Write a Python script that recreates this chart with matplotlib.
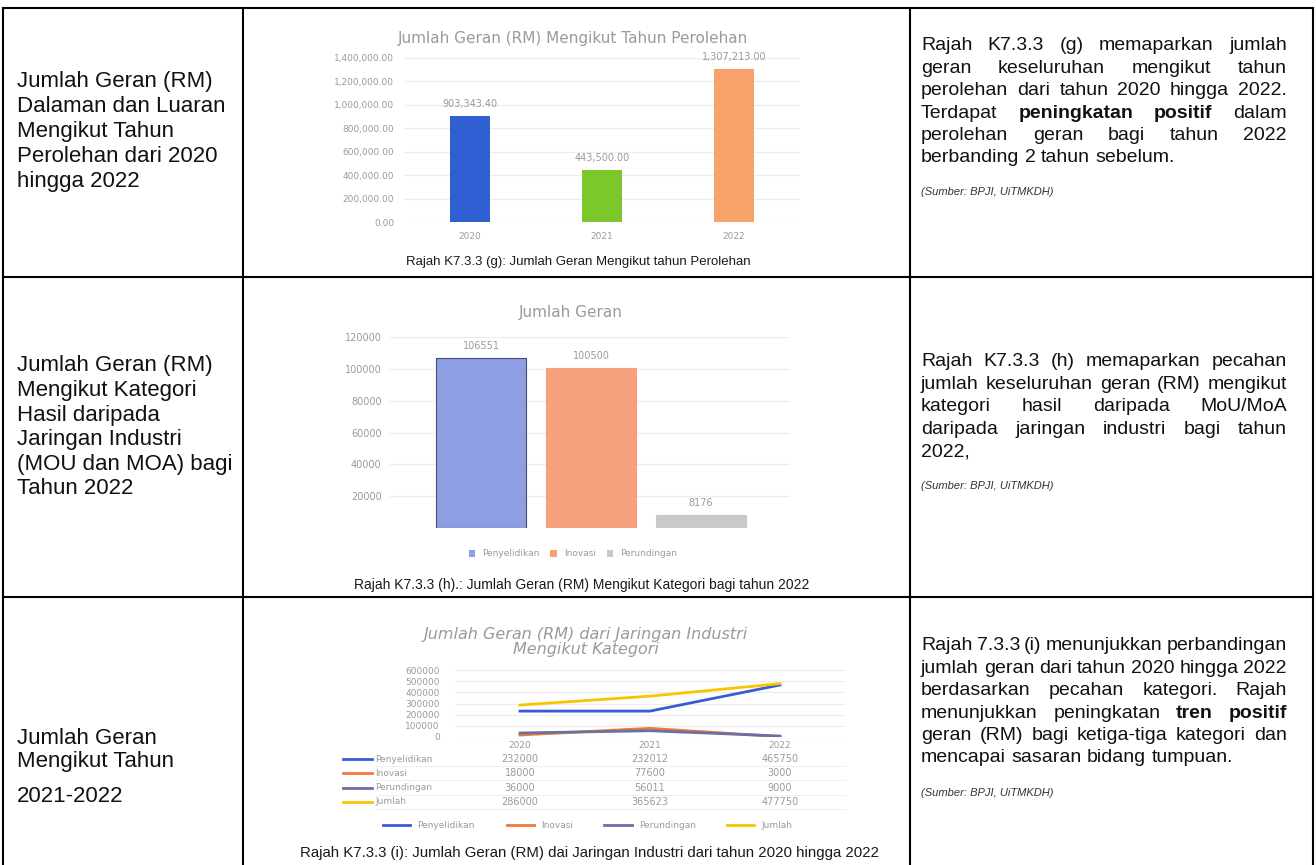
import matplotlib
matplotlib.use('Agg')
import matplotlib.pyplot as plt
import matplotlib.transforms as mtransforms
from matplotlib.lines import Line2D
from matplotlib.patches import Patch

plt.rcParams['font.family'] = ['Liberation Sans', 'DejaVu Sans']

W, H = 1316, 865
CHART_FONT = 'DejaVu Sans'
GREY_TXT = '#9a9a9a'
GRID = '#ececec'

# Rajah K7.3.3 (g): geran mengikut tahun perolehan
tahun_g = ['2020', '2021', '2022']
geran_g = [903343.40, 443500.00, 1307213.00]
warna_g = ['#2f5fd3', '#7cc72a', '#f9a36c']
yticks_g = [0, 200000, 400000, 600000, 800000, 1000000, 1200000, 1400000]

# Rajah K7.3.3 (h): geran mengikut kategori 2022
kategori_h = ['Penyelidikan', 'Inovasi', 'Perundingan']
geran_h = [106551, 100500, 8176]
warna_h = ['#8d9ee2', '#f6a17c', '#c9c9c9']
yticks_h = [20000, 40000, 60000, 80000, 100000, 120000]

# Rajah K7.3.3 (i): geran jaringan industri mengikut kategori
tahun_i = ['2020', '2021', '2022']
siri_i = ['Penyelidikan', 'Inovasi', 'Perundingan', 'Jumlah']
penyelidikan_i = [232000, 232012, 465750]
inovasi_i = [18000, 77600, 3000]
perundingan_i = [36000, 56011, 9000]
jumlah_i = [286000, 365623, 477750]
warna_i = ['#3b5bd6', '#ec7b3a', '#6b6fa6', '#f7c600']
yticks_i = [0, 100000, 200000, 300000, 400000, 500000, 600000]

# table text
kiri = [
    ['Jumlah Geran (RM)', 'Dalaman dan Luaran', 'Mengikut Tahun',
     'Perolehan dari 2020', 'hingga 2022'],
    ['Jumlah Geran (RM)', 'Mengikut Kategori', 'Hasil daripada',
     'Jaringan Industri', '(MOU dan MOA) bagi', 'Tahun 2022'],
    ['Jumlah Geran', 'Mengikut Tahun', '2021-2022'],
]
kanan = [
    ['Rajah K7.3.3 (g) memaparkan jumlah',
     'geran keseluruhan mengikut tahun',
     'perolehan dari tahun 2020 hingga 2022.',
     'Terdapat *peningkatan *positif dalam',
     'perolehan geran bagi tahun 2022',
     'berbanding 2 tahun sebelum.'],
    ['Rajah K7.3.3 (h) memaparkan pecahan',
     'jumlah keseluruhan geran (RM) mengikut',
     'kategori hasil daripada MoU/MoA',
     'daripada jaringan industri bagi tahun',
     '2022,'],
    ['Rajah 7.3.3 (i) menunjukkan perbandingan',
     'jumlah geran dari tahun 2020 hingga 2022',
     'berdasarkan pecahan kategori. Rajah',
     'menunjukkan peningkatan *tren *positif',
     'geran (RM) bagi ketiga-tiga kategori dan',
     'mencapai sasaran bidang tumpuan.'],
]
sumber = '(Sumber: BPJI, UiTMKDH)'
kapsyen = [
    'Rajah K7.3.3 (g): Jumlah Geran Mengikut tahun Perolehan',
    'Rajah K7.3.3 (h).: Jumlah Geran (RM) Mengikut Kategori bagi tahun 2022',
    'Rajah K7.3.3 (i): Jumlah Geran (RM) dai Jaringan Industri dari tahun 2020 hingga 2022',
]

fig = plt.figure(figsize=(W / 100, H / 100), dpi=100)
renderer = fig.canvas.get_renderer()


def fx(x):
    return x / W


def fy(y):
    return 1 - y / H


def box(x0, y0, x1, y1):
    return fig.add_axes([fx(x0), fy(y1), (x1 - x0) / W, (y1 - y0) / H])


def line_px(xs, ys, **kw):
    fig.add_artist(Line2D([fx(x) for x in xs], [fy(y) for y in ys],
                          transform=fig.transFigure, **kw))


def text_px(x, y, s, **kw):
    return fig.text(fx(x), fy(y), s, **kw)


def justified(lines, x0, x1, y0, dy, size):
    a = text_px(0, 0, 'a a', fontsize=size)
    b = text_px(0, 0, 'aa', fontsize=size)
    space = a.get_window_extent(renderer).width - b.get_window_extent(renderer).width
    a.remove()
    b.remove()
    for i, line in enumerate(lines):
        y = y0 + i * dy
        words = line.split()
        arts = []
        for w in words:
            bold = w.startswith('*')
            arts.append(text_px(x0, y, w.lstrip('*'), fontsize=size, va='center',
                                fontweight='bold' if bold else 'normal', color='#111111'))
        widths = [t.get_window_extent(renderer).width for t in arts]
        if i == len(lines) - 1 or len(words) == 1:
            gap = space
        else:
            gap = (x1 - x0 - sum(widths)) / (len(words) - 1)
        x = x0
        for t, w in zip(arts, widths):
            t.set_x(fx(x))
            x += w + gap


def style_chart(ax):
    for s in ax.spines.values():
        s.set_visible(False)
    ax.tick_params(length=0, labelcolor=GREY_TXT)
    ax.grid(axis='y', color=GRID, lw=0.8)
    ax.set_axisbelow(True)
    for lbl in ax.get_xticklabels() + ax.get_yticklabels():
        lbl.set_family(CHART_FONT)


# ---- table frame
for y in (8, 277, 597):
    line_px([3, 1313], [y, y], color='black', lw=1.5)
for x in (3, 243, 910, 1313):
    line_px([x, x], [8, 870], color='black', lw=1.5)

# ---- left column
kiri_y = [(82, 25), (366, 24.6), (738, 23)]
for lines, (y0, dy) in zip(kiri, kiri_y):
    for i, s in enumerate(lines):
        extra = 13 if (len(lines) == 3 and i == 2) else 0
        text_px(17, y0 + i * dy + extra, s, fontsize=16, va='center', color='#111111')

# ---- right column
kanan_y = [(46, 22.4), (362, 22.4), (646, 22.4)]
sumber_y = [192, 486, 793]
for lines, (y0, dy), ys in zip(kanan, kanan_y, sumber_y):
    justified(lines, 921, 1287, y0, dy, 14)
    text_px(921, ys, sumber, fontsize=8, style='italic', va='center', color='#333333')

# ---- captions
for s, (cx, cy), fs in zip(kapsyen, [(578, 262), (582, 585), (590, 853)], [9.5, 10, 10.8]):
    text_px(cx, cy, s, fontsize=fs, ha='center', va='center', color='#1a1a1a')

# ---- chart (g)
text_px(573, 38, 'Jumlah Geran (RM) Mengikut Tahun Perolehan', family=CHART_FONT,
        fontsize=11, ha='center', va='center', color=GREY_TXT)
ax1 = box(404, 58, 800, 222)
pos_g = range(len(tahun_g))
ax1.bar(pos_g, geran_g, width=0.31, color=warna_g)
ax1.set_xlim(-0.5, 2.5)
ax1.set_ylim(0, yticks_g[-1])
ax1.set_yticks(yticks_g)
ax1.set_yticklabels([f'{v:,.2f}' for v in yticks_g])
ax1.set_xticks(pos_g)
ax1.set_xticklabels(tahun_g)
style_chart(ax1)
ax1.tick_params(axis='y', labelsize=6.5, pad=7)
ax1.tick_params(axis='x', labelsize=6.5, pad=7)
for i, v in enumerate(geran_g):
    ax1.annotate(f'{v:,.2f}', (i, v), xytext=(0, 5), textcoords='offset points',
                 ha='center', va='bottom', fontsize=7, color=GREY_TXT, family=CHART_FONT)

# ---- chart (h)
text_px(571, 313, 'Jumlah Geran', family=CHART_FONT, fontsize=11,
        ha='center', va='center', color=GREY_TXT)
ax2 = box(390, 337, 790, 528)
pos_h = range(len(kategori_h))
ax2.bar(pos_h, geran_h, width=0.82, color=warna_h,
        edgecolor=['#454a80', warna_h[1], warna_h[2]], lw=0.8)
ax2.set_xlim(-0.83, 2.81)
ax2.set_ylim(0, yticks_h[-1])
ax2.set_yticks(yticks_h)
ax2.set_yticklabels([str(v) for v in yticks_h])
ax2.set_xticks([])
style_chart(ax2)
ax2.tick_params(axis='y', labelsize=7, pad=6)
for i, v in enumerate(geran_h):
    ax2.annotate(str(v), (i, v), xytext=(0, 5), textcoords='offset points',
                 ha='center', va='bottom', fontsize=7, color=GREY_TXT, family=CHART_FONT)
fig.legend(handles=[Patch(facecolor=c) for c in warna_h], labels=kategori_h,
           loc='center', bbox_to_anchor=(fx(573), fy(554)), ncol=3, frameon=False,
           handlelength=0.7, handleheight=0.7, columnspacing=1.2,
           labelcolor=GREY_TXT, prop={'family': CHART_FONT, 'size': 6.5})

# ---- chart (i)
text_px(586, 642, 'Jumlah Geran (RM) dari Jaringan Industri\nMengikut Kategori',
        family=CHART_FONT, fontsize=11.5, style='italic', ha='center', va='center',
        color=GREY_TXT, linespacing=1.05)
ax3 = box(455, 670, 845, 737)
pos_i = range(len(tahun_i))
siri_vals = [penyelidikan_i, inovasi_i, perundingan_i, jumlah_i]
for vals, c in zip(siri_vals, warna_i):
    ax3.plot(pos_i, vals, color=c, lw=2)
ax3.set_xlim(-0.5, 2.5)
ax3.set_ylim(0, yticks_i[-1])
ax3.set_yticks(yticks_i)
ax3.set_yticklabels([str(v) for v in yticks_i])
ax3.set_xticks(pos_i)
ax3.set_xticklabels(tahun_i)
style_chart(ax3)
ax3.tick_params(axis='y', labelsize=6.5, pad=11)
ax3.tick_params(axis='x', labelsize=6.5, pad=3)

trans = mtransforms.blended_transform_factory(ax3.transData, fig.transFigure)
for r, (name, vals, c) in enumerate(zip(siri_i, siri_vals, warna_i)):
    y = 759 + r * 14.3
    line_px([343, 372], [y, y], color=c, lw=2)
    text_px(375, y, name, family=CHART_FONT, fontsize=6.5, va='center', color=GREY_TXT)
    line_px([375, 845], [y + 7, y + 7], color='#f0f0f0', lw=0.8)
    for j, v in enumerate(vals):
        fig.text(j, fy(y), str(v), transform=trans, ha='center', va='center',
                 fontsize=7, color=GREY_TXT, family=CHART_FONT)
fig.legend(handles=[Line2D([], [], color=c, lw=2) for c in warna_i], labels=siri_i,
           loc='center', bbox_to_anchor=(fx(588), fy(826)), ncol=4, frameon=False,
           handlelength=3, columnspacing=3.5, labelcolor=GREY_TXT,
           prop={'family': CHART_FONT, 'size': 6.5})

fig.savefig('out.png', dpi=100)
